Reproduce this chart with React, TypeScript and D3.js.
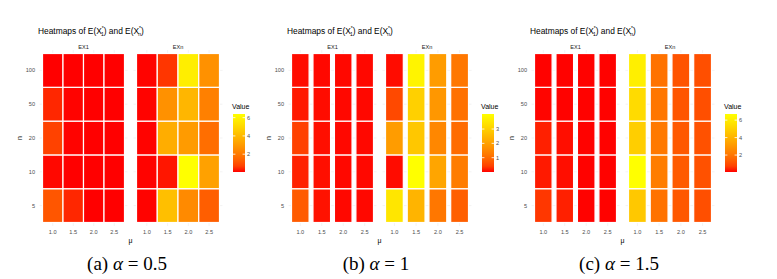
import * as d3 from "d3";

// ── Data ──────────────────────────────────────────────────────────────────────

const MU = ["1.0", "1.5", "2.0", "2.5"];
const N = ["5", "10", "20", "50", "100"];

// rows follow N (5 → 100), columns follow MU
const EX1_A = [
  [1.1, 0.3, 0.05, 0.05],
  [0.08, 0.05, 0.05, 0.05],
  [0.7, 0.06, 0.05, 0.05],
  [0.3, 0.06, 0.05, 0.05],
  [0.05, 0.05, 0.05, 0.05],
];
const EXN_A = [
  [0.06, 4.2, 2.5, 1.3],
  [0.06, 0.15, 6.4, 3.2],
  [0.06, 3.6, 3.0, 1.7],
  [0.06, 2.7, 3.9, 2.2],
  [0.06, 0.5, 5.8, 2.7],
];
const EX1_B = [
  [0.75, 0.05, 0.02, 0.02],
  [0.12, 0.04, 0.02, 0.02],
  [0.4, 0.04, 0.02, 0.02],
  [0.08, 0.03, 0.02, 0.02],
  [0.03, 0.02, 0.02, 0.02],
];
const EXN_B = [
  [3.5, 2.4, 1.2, 0.8],
  [0.03, 4.05, 2.1, 1.3],
  [1.9, 2.8, 1.5, 1.0],
  [0.5, 3.0, 1.8, 1.1],
  [0.03, 3.8, 1.9, 1.2],
];
const EX1_C = [
  [0.55, 0.25, 0.07, 0.07],
  [0.2, 0.12, 0.07, 0.07],
  [0.25, 0.12, 0.07, 0.07],
  [0.08, 0.07, 0.07, 0.07],
  [0.07, 0.07, 0.07, 0.07],
];
const EXN_C = [
  [4.7, 1.9, 1.2, 1.0],
  [6.7, 2.2, 1.25, 1.05],
  [4.9, 2.1, 1.2, 1.05],
  [5.4, 2.0, 1.15, 1.0],
  [6.1, 1.9, 1.1, 1.0],
];

const FACETS = ["EX1", "EXn"];
const CAPTIONS = [
  { tag: "(a)", alpha: "0.5" },
  { tag: "(b)", alpha: "1" },
  { tag: "(c)", alpha: "1.5" },
];
const DOMAINS: [number, number][] = [
  [0.05, 6.4],
  [0, 4.05],
  [0.06, 6.7],
];
const BREAKS = [
  [2, 4, 6],
  [1, 2, 3],
  [2, 4, 6],
];

const PANELS = [
  { ex1: EX1_A, exn: EXN_A, pad: 0 },
  { ex1: EX1_B, exn: EXN_B, pad: 0.18 },
  { ex1: EX1_C, exn: EXN_C, pad: 0.18 },
];

// ── Layout ────────────────────────────────────────────────────────────────────

const W = 777;
const H = 279;
const OFFSETS = [0, 249, 492];
const FACET_X: [number, number][] = [
  [42.5, 124.5],
  [136.5, 219.5],
];
const TILE_Y: [number, number] = [222.5, 53.5];
const FONT = "Liberation Sans, Arial, Helvetica, sans-serif";
const SERIF = "Liberation Serif, Times New Roman, serif";
const interp = d3.interpolateLab("#FF0000", "#FFFF00");

function Title({ x, y }: { x: number; y: number }) {
  const sub = 5;
  return (
    <text x={x} y={y} fontSize={8.4} fontFamily={FONT} fill="#000">
      <tspan>Heatmaps of E(X</tspan>
      <tspan fontSize={sub} dy={-3.2}>*</tspan>
      <tspan fontSize={sub} dx={-2.8} dy={5.4}>1</tspan>
      <tspan dy={-2.2}>) and E(X</tspan>
      <tspan fontSize={sub} dy={-3.2}>*</tspan>
      <tspan fontSize={sub} dx={-2.8} dy={5.4}>n</tspan>
      <tspan dy={-2.2}>)</tspan>
    </text>
  );
}

function Panel({ idx }: { idx: number }) {
  const p = PANELS[idx];
  const off = OFFSETS[idx];
  const dom = DOMAINS[idx];
  const color = d3.scaleSequential(interp).domain(dom);
  const y = d3.scaleBand<string>().domain(N).range(TILE_Y).padding(0);
  const legendY = d3.scaleLinear().domain(dom).range([172, 114]);
  const gradId = `grad-${idx}`;
  const stops = d3.range(0, 1.0001, 0.1);

  return (
    <g transform={`translate(${off},0)`}>
      <Title x={38} y={33.5} />

      {FACETS.map((f, fi) => {
        const [x0, x1] = FACET_X[fi];
        const x = d3
          .scaleBand<string>()
          .domain(MU)
          .range([x0, x1])
          .paddingInner(p.pad)
          .paddingOuter(0);
        const vals = fi === 0 ? p.ex1 : p.exn;
        return (
          <g key={f}>
            {/* grid */}
            {MU.map((m) => (
              <line
                key={`gx${m}`}
                x1={x(m)! + x.bandwidth() / 2}
                x2={x(m)! + x.bandwidth() / 2}
                y1={50}
                y2={226}
                stroke="#EBEBEB"
                strokeWidth={0.6}
              />
            ))}
            {N.map((n) => (
              <line
                key={`gy${n}`}
                x1={x0 - 3}
                x2={x1 + 3}
                y1={y(n)! + y.bandwidth() / 2}
                y2={y(n)! + y.bandwidth() / 2}
                stroke="#EBEBEB"
                strokeWidth={0.6}
              />
            ))}
            {/* tiles */}
            {N.map((n, ri) =>
              MU.map((m, ci) => (
                <rect
                  key={`${n}-${m}`}
                  x={x(m)!}
                  y={y(n)!}
                  width={x.bandwidth()}
                  height={y.bandwidth()}
                  fill={color(vals[ri][ci])}
                  stroke="#fff"
                  strokeWidth={1.2}
                />
              ))
            )}
            {/* strip */}
            <text
              x={(x0 + x1) / 2}
              y={49}
              textAnchor="middle"
              fontSize={5.6}
              fontFamily={FONT}
              fill="#1A1A1A"
            >
              {f}
            </text>
            {/* x ticks */}
            {MU.map((m) => (
              <text
                key={`xt${m}`}
                x={x(m)! + x.bandwidth() / 2}
                y={233.5}
                textAnchor="middle"
                fontSize={5.6}
                fontFamily={FONT}
                fill="#4D4D4D"
              >
                {m}
              </text>
            ))}
          </g>
        );
      })}

      {/* y ticks */}
      {N.map((n) => (
        <text
          key={`yt${n}`}
          x={35}
          y={y(n)! + y.bandwidth() / 2 + 2}
          textAnchor="end"
          fontSize={5.6}
          fontFamily={FONT}
          fill="#4D4D4D"
        >
          {n}
        </text>
      ))}

      {/* axis titles */}
      <text
        transform="translate(22,138) rotate(-90)"
        textAnchor="middle"
        fontSize={7}
        fontFamily={FONT}
        fill="#000"
      >
        n
      </text>
      <text x={130.5} y={243} textAnchor="middle" fontSize={7} fontFamily={FONT} fill="#000">
        μ
      </text>

      {/* legend */}
      <defs>
        <linearGradient id={gradId} x1="0" y1="1" x2="0" y2="0">
          {stops.map((t) => (
            <stop key={t} offset={t} stopColor={interp(t)} />
          ))}
        </linearGradient>
      </defs>
      <text x={232} y={109} fontSize={7} fontFamily={FONT} fill="#000">
        Value
      </text>
      <rect x={233} y={114} width={12} height={58} fill={`url(#${gradId})`} />
      {BREAKS[idx].map((b) => (
        <g key={b}>
          <line x1={233} x2={235.4} y1={legendY(b)} y2={legendY(b)} stroke="#fff" strokeWidth={0.8} />
          <line x1={242.6} x2={245} y1={legendY(b)} y2={legendY(b)} stroke="#fff" strokeWidth={0.8} />
          <text
            x={247}
            y={legendY(b) + 2}
            fontSize={5.6}
            fontFamily={FONT}
            fill="#4D4D4D"
          >
            {b}
          </text>
        </g>
      ))}

      {/* caption */}
      <text x={127} y={270} textAnchor="middle" fontSize={19} fontFamily={SERIF} fill="#000">
        {CAPTIONS[idx].tag} <tspan fontStyle="italic">α</tspan> = {CAPTIONS[idx].alpha}
      </text>
    </g>
  );
}

export default function App() {
  return (
    <svg
      width={W}
      height={H}
      style={{ position: "absolute", left: 0, top: 0, background: "#fff" }}
    >
      {PANELS.map((_, i) => (
        <Panel key={i} idx={i} />
      ))}
    </svg>
  );
}
